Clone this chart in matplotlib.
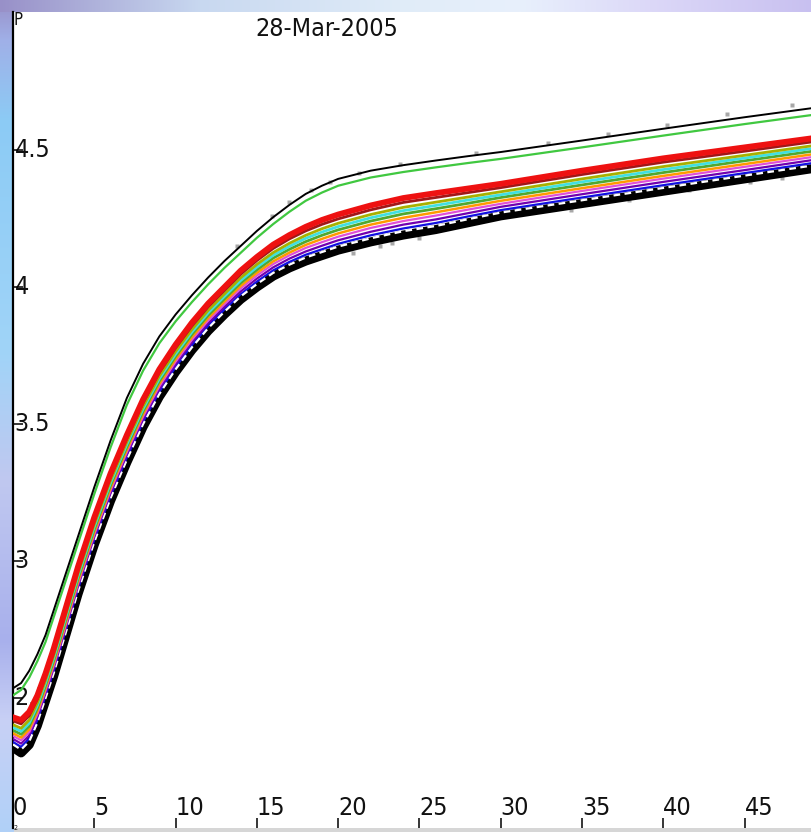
import numpy as np
import matplotlib.pyplot as plt
from matplotlib.colors import to_rgb

plt.rcParams['font.family'] = ['DejaVu Sans']
plt.rcParams['font.stretch'] = 'condensed'

# ============================================================
#   DATA  (yield curves)
# ============================================================
maturity = [0, 0.5, 1, 1.5, 2, 2.5, 3, 4, 5, 6, 7, 8, 9, 10, 11, 12, 13, 14, 15, 16, 17, 18, 19, 20,
            22, 24, 26, 28, 30, 35, 40, 45, 50]

top_black = [2.536, 2.555, 2.60, 2.66, 2.73, 2.82, 2.91, 3.09, 3.27, 3.44, 3.595, 3.72, 3.82, 3.90, 3.97, 4.035, 4.095,
             4.15, 4.205, 4.255, 4.30, 4.34, 4.37, 4.395, 4.425, 4.445, 4.462, 4.478, 4.493, 4.535, 4.578, 4.62, 4.66]
top_green = [2.51, 2.53, 2.575, 2.635, 2.705, 2.795, 2.885, 3.065, 3.245, 3.415, 3.57, 3.695, 3.795, 3.875, 3.945, 4.01, 4.07,
             4.125, 4.18, 4.23, 4.275, 4.315, 4.345, 4.37, 4.40, 4.42, 4.437, 4.453, 4.468, 4.51, 4.553, 4.595, 4.635]
red = [2.43, 2.42, 2.45, 2.51, 2.59, 2.68, 2.78, 2.98, 3.16, 3.32, 3.46, 3.59, 3.70, 3.79, 3.87, 3.94, 4.00,
       4.06, 4.11, 4.155, 4.19, 4.22, 4.245, 4.265, 4.298, 4.325, 4.343, 4.36, 4.377, 4.425, 4.47, 4.51, 4.55]
brown = [2.417, 2.406, 2.436, 2.497, 2.578, 2.668, 2.768, 2.968, 3.148, 3.308, 3.448, 3.578, 3.688, 3.778, 3.858, 3.928, 3.988,
         4.047, 4.097, 4.141, 4.176, 4.205, 4.229, 4.249, 4.282, 4.309, 4.327, 4.345, 4.363, 4.411, 4.456, 4.496, 4.537]
olive = [2.403, 2.39, 2.42, 2.483, 2.565, 2.655, 2.755, 2.955, 3.135, 3.295, 3.435, 3.565, 3.675, 3.765, 3.845, 3.915, 3.975,
         4.034, 4.083, 4.126, 4.16, 4.189, 4.213, 4.233, 4.265, 4.291, 4.31, 4.329, 4.348, 4.395, 4.44, 4.481, 4.523]
cyan = [2.393, 2.379, 2.409, 2.473, 2.556, 2.646, 2.746, 2.946, 3.126, 3.286, 3.426, 3.556, 3.666, 3.756, 3.836, 3.906, 3.966,
        4.024, 4.073, 4.116, 4.149, 4.178, 4.201, 4.221, 4.253, 4.279, 4.298, 4.318, 4.337, 4.384, 4.429, 4.471, 4.513]
lgreen = [2.383, 2.368, 2.398, 2.463, 2.547, 2.637, 2.737, 2.937, 3.117, 3.277, 3.417, 3.547, 3.657, 3.747, 3.827, 3.897, 3.957,
          4.015, 4.063, 4.106, 4.138, 4.166, 4.189, 4.209, 4.241, 4.267, 4.286, 4.306, 4.327, 4.373, 4.418, 4.461, 4.503]
orange = [2.372, 2.356, 2.386, 2.452, 2.537, 2.627, 2.727, 2.927, 3.107, 3.267, 3.407, 3.537, 3.647, 3.737, 3.817, 3.887, 3.947,
          4.004, 4.052, 4.094, 4.126, 4.154, 4.176, 4.196, 4.228, 4.253, 4.273, 4.294, 4.315, 4.361, 4.406, 4.449, 4.492]
magenta = [2.362, 2.346, 2.376, 2.442, 2.528, 2.618, 2.718, 2.918, 3.098, 3.258, 3.398, 3.528, 3.638, 3.728, 3.808, 3.878, 3.938,
           3.995, 4.042, 4.084, 4.116, 4.143, 4.164, 4.184, 4.216, 4.241, 4.261, 4.283, 4.304, 4.351, 4.396, 4.439, 4.482]
purple = [2.351, 2.334, 2.364, 2.431, 2.518, 2.608, 2.708, 2.908, 3.088, 3.248, 3.388, 3.518, 3.628, 3.718, 3.798, 3.868, 3.928,
          3.984, 4.031, 4.072, 4.104, 4.13, 4.151, 4.171, 4.202, 4.228, 4.247, 4.27, 4.293, 4.339, 4.384, 4.427, 4.471]
blue = [2.34, 2.322, 2.352, 2.42, 2.508, 2.598, 2.698, 2.898, 3.078, 3.238, 3.378, 3.508, 3.618, 3.708, 3.788, 3.858, 3.918,
        3.974, 4.02, 4.061, 4.092, 4.118, 4.138, 4.158, 4.189, 4.214, 4.234, 4.258, 4.281, 4.327, 4.372, 4.416, 4.46]
white_dash = [2.331, 2.312, 2.342, 2.411, 2.50, 2.59, 2.69, 2.89, 3.07, 3.23, 3.37, 3.50, 3.61, 3.70, 3.78, 3.85, 3.91,
              3.966, 4.011, 4.052, 4.082, 4.108, 4.128, 4.148, 4.178, 4.204, 4.223, 4.248, 4.272, 4.317, 4.362, 4.407, 4.451]
bottom_black = [2.32, 2.30, 2.33, 2.40, 2.49, 2.58, 2.68, 2.88, 3.06, 3.22, 3.36, 3.49, 3.60, 3.69, 3.77, 3.84, 3.90,
                3.955, 4.00, 4.04, 4.07, 4.095, 4.115, 4.135, 4.165, 4.19, 4.21, 4.235, 4.26, 4.305, 4.35, 4.395, 4.44]

# observed bond points (grey squares)
upper_pts_x = [13.8, 15.9, 17.0, 18.3, 19.5, 21.3, 23.8, 28.5, 32.9, 36.6, 40.2, 43.9, 47.9]
upper_pts_y = [4.15, 4.26, 4.31, 4.355, 4.385, 4.415, 4.45, 4.49, 4.525, 4.56, 4.59, 4.63, 4.665]
lower_pts_x = [20.9, 22.6, 23.3, 25.0, 34.3, 37.9, 41.6, 45.3, 47.3]
lower_pts_y = [4.125, 4.15, 4.16, 4.18, 4.28, 4.318, 4.354, 4.385, 4.40]

xtick_vals = [0, 5, 10, 15, 20, 25, 30, 35, 40, 45]
ytick_vals = [2.5, 3, 3.5, 4, 4.5]
ytick_labels = ['2.5', '3', '3.5', '4', '4.5']
title_text = '28-Mar-2005'

# ============================================================
#   FIGURE + slide background
# ============================================================
W, H = 812, 832
fig = plt.figure(figsize=(W / 100, H / 100), dpi=100)

def ramp(stops, n):
    pos = [s[0] for s in stops]
    cols = np.array([to_rgb(s[1]) for s in stops])
    idx = np.arange(n)
    return np.stack([np.interp(idx, pos, cols[:, k]) for k in range(3)], axis=1)

img = np.ones((H, W, 3))
left = ramp([(0, '#9890c8'), (40, '#a0b0e8'), (120, '#8ccbf5'), (350, '#a0d4f8'),
             (480, '#c0c8f0'), (640, '#a8b0ec'), (720, '#c8d0f5'), (832, '#b0d0f8')], H)
img[:, :14, :] = left[:, None, :]
top = ramp([(0, '#9890c8'), (200, '#c8d8f0'), (400, '#e0ecf8'), (520, '#e8f0fc'),
            (650, '#dcd8f8'), (812, '#c8c0f0')], W)
img[:12, :, :] = top[None, :, :]
img[828:, 14:, :] = to_rgb('#d6d6d6')

bg = fig.add_axes([0, 0, 1, 1], zorder=-1)
bg.imshow(img, aspect='auto', interpolation='bilinear')
bg.axis('off')

# axes runs a bit past the right edge, like the cropped original
ax = fig.add_axes([13 / W, 4 / H, 813 / W, 816 / H])
ax.set_facecolor('white')
ax.set_xlim(0, 50)
ax.set_ylim(2.026, 5.004)
for s in ['top', 'right', 'bottom']:
    ax.spines[s].set_visible(False)
ax.spines['left'].set_linewidth(1.6)
ax.spines['left'].set_color('black')

ax.set_xticks(xtick_vals)
ax.set_xticklabels([])
ax.set_yticks(ytick_vals)
ax.set_yticklabels([])
ax.tick_params(direction='in', length=7, width=1.1, color='black')

for v in xtick_vals:
    ax.text(v, 0.0159, str(v), transform=ax.get_xaxis_transform(),
            ha='left', va='baseline', fontsize=18, color='#111111', zorder=0.5)
for v, lab in zip(ytick_vals, ytick_labels):
    ax.text(0.1, v, lab, ha='left', va='center', fontsize=18, color='#111111', zorder=0.5)

# ============================================================
#   CURVES
# ============================================================
ax.plot(upper_pts_x, upper_pts_y, 's', ms=3.2, color='#a8a8a8', mec='none', zorder=1.5)
ax.plot(lower_pts_x, lower_pts_y, 's', ms=3.2, color='#a8a8a8', mec='none', zorder=1.5)

ax.plot(maturity, bottom_black, color='black', lw=6.5, zorder=2)
ax.plot(maturity, blue, color='#1010e0', lw=1.6, zorder=3)
ax.plot(maturity, white_dash, color='white', lw=1.6, ls=(0, (3, 2)), zorder=3)
ax.plot(maturity, purple, color='#7000b0', lw=1.6, zorder=3)
ax.plot(maturity, magenta, color='#e050d8', lw=1.6, zorder=3)
ax.plot(maturity, orange, color='#ff9900', lw=1.8, zorder=3)
ax.plot(maturity, lgreen, color='#50a830', lw=2.0, zorder=3)
ax.plot(maturity, cyan, color='#40e0e0', lw=2.0, zorder=3)
ax.plot(maturity, olive, color='#a8b000', lw=2.0, zorder=3)
ax.plot(maturity, brown, color='#a01818', lw=2.0, zorder=3)
ax.plot(maturity, red, color='#ee1111', lw=4.2, zorder=4)
ax.plot(maturity, top_green, color='#40c840', lw=1.6, zorder=4)
ax.plot(maturity, top_black, color='black', lw=1.4, zorder=4)

# labels cut by the crop
fig.text(255 / W, 1 - 36 / H, title_text, ha='left', va='baseline', fontsize=18, color='#111111')
fig.text(14 / W, 1 - 25 / H, 'P', ha='left', va='baseline', fontsize=12, color='#111111')
fig.text(14 / W, 0.5 / H, '2', ha='left', va='bottom', fontsize=5, color='#111111')

plt.savefig('out.png', dpi=100)
plt.close()
